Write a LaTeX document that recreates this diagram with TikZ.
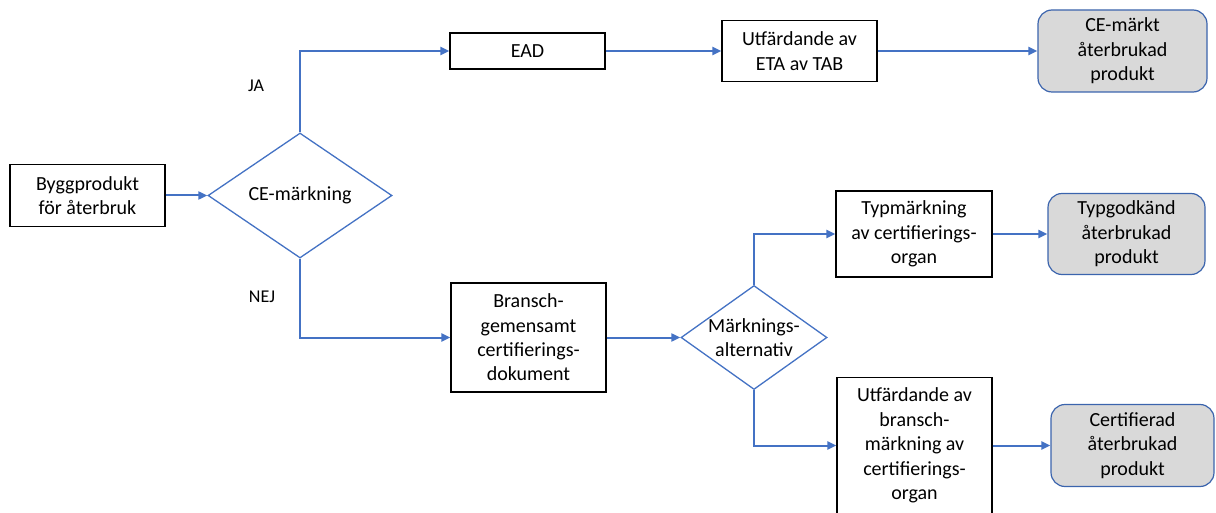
\documentclass[tikz,border=0pt]{standalone}
\usepackage{fontspec}
\setmainfont{Carlito}
\usetikzlibrary{shapes.geometric,arrows.meta}
\definecolor{flowblue}{HTML}{4472C4}
\definecolor{endblue}{HTML}{3B64AD}
\definecolor{endgray}{HTML}{D9D9D9}
\begin{document}
\begin{tikzpicture}[x=1pt,y=-1pt,
  every node/.style={font=\fontsize{20}{24.4}\selectfont, align=center, inner sep=0pt},
  stepbox/.style={draw=black, line width=1.2pt, fill=white},
  endbox/.style={draw=endblue, line width=1.2pt, fill=endgray, rounded corners=14pt},
  choice/.style={diamond, draw=flowblue, line width=1.3pt, fill=white},
  flow/.style={draw=flowblue, line width=2pt, -{Triangle[length=9pt,width=8pt]}},
  answer/.style={font=\fontsize{18}{22}\selectfont}
]
\useasboundingbox (0,0) rectangle (1216,513);

% start and first decision
\node[stepbox, minimum width=155, minimum height=62] (start) at (87.5,195.5) {Byggprodukt\\för återbruk};
\node[choice, minimum width=184, minimum height=125] (ce) at (300,195.5) {};
\node (cetext) at (ce) {CE-märkning};

% CE-marked branch
\node[stepbox, minimum width=155, minimum height=36] (ead) at (527.5,51) {EAD};
\node[stepbox, minimum width=155, minimum height=61] (eta) at (799.5,51) {Utfärdande av\\ETA av TAB};
\node[endbox, minimum width=169, minimum height=82] (cemark) at (1122.5,51) {CE-märkt\\återbrukad\\produkt};

% branch without CE marking
\node[stepbox, minimum width=155, minimum height=109] (bransch) at (528.5,337.5) {Bransch-\\gemensamt\\certifierings-\\dokument};
\node[choice, minimum width=146, minimum height=104] (alt) at (754,337.5) {};
\node (alttext) at (alt) {Märknings-\\alternativ};

\node[stepbox, minimum width=156, minimum height=86] (typ) at (914,234) {Typmärkning\\av certifierings-\\organ};
\node[endbox, minimum width=157, minimum height=81] (typgod) at (1126.5,234) {Typgodkänd\\återbrukad\\produkt};

\node[stepbox, minimum width=155, minimum height=136] (utf) at (914.5,445.5) {Utfärdande av\\bransch-\\märkning av\\certifierings-\\organ};
\node[endbox, minimum width=163, minimum height=82] (cert) at (1132.5,445.5) {Certifierad\\återbrukad\\produkt};

% answer labels
\node[answer] (ja) at (256,86) {JA};
\node[answer] (nej) at (262,297) {NEJ};

% connectors
\draw[flow] (start.east) -- (ce.west);
\draw[flow] (ce.north) |- (ead.west);
\draw[flow] (ead.east) -- (eta.west);
\draw[flow] (eta.east) -- (cemark.west);
\draw[flow] (ce.south) |- (bransch.west);
\draw[flow] (bransch.east) -- (alt.west);
\draw[flow] (alt.north) |- (typ.west);
\draw[flow] (typ.east) -- (typgod.west);
\draw[flow] (alt.south) |- (utf.west);
\draw[flow] (utf.east) -- (cert.west);
\end{tikzpicture}
\end{document}
